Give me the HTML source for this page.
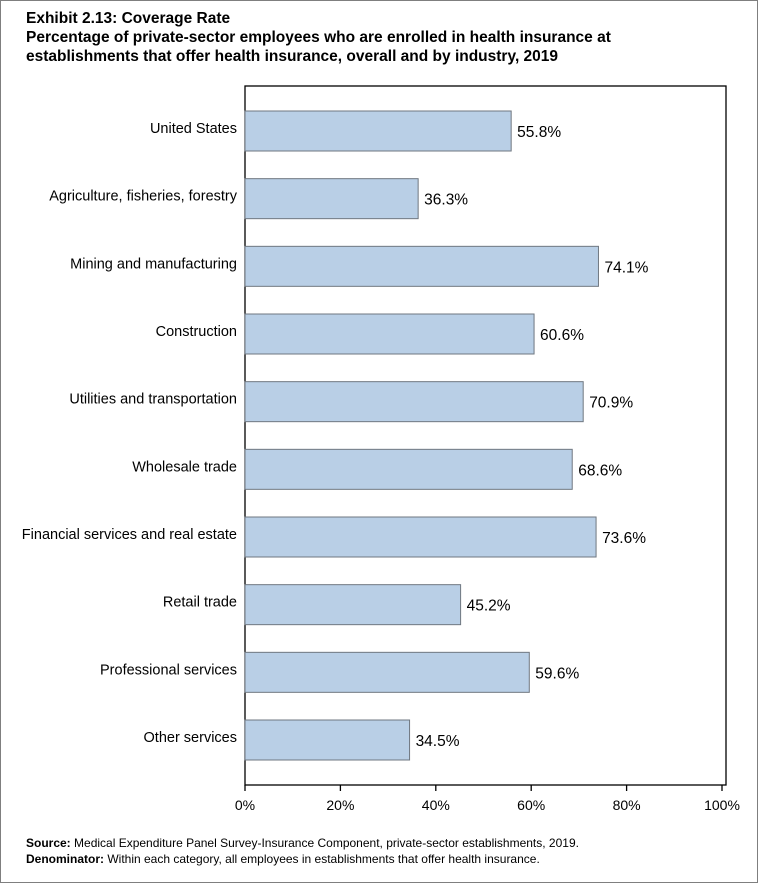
<!DOCTYPE html>
<html><head><meta charset="utf-8"><style>
body{margin:0;background:#fff}
#wrap{position:relative;width:756px;height:881px;border:1px solid #7f7f7f;font-family:"Liberation Sans",Arial,sans-serif;overflow:hidden}
.t{position:absolute;left:25px;font-weight:bold;font-size:15.5px;color:#000;line-height:19px}
.f{position:absolute;left:25px;font-size:12px;line-height:16px}
</style></head><body>
<div id="wrap">
<div class="t" style="top:8px">Exhibit 2.13: Coverage Rate<br>Percentage of private-sector employees who are enrolled in health insurance at<br>establishments that offer health insurance, overall and by industry, 2019</div>
<svg id="chart" width="758" height="883" style="position:absolute;left:-1px;top:-1px"></svg>
<div class="f" style="top:834px"><b>Source:</b> Medical Expenditure Panel Survey-Insurance Component, private-sector establishments, 2019.</div>
<div class="f" style="top:850px"><b>Denominator:</b> Within each category, all employees in establishments that offer health insurance.</div>
</div>
<script>
const categories=["United States","Agriculture, fisheries, forestry","Mining and manufacturing","Construction","Utilities and transportation","Wholesale trade","Financial services and real estate","Retail trade","Professional services","Other services"];
const values=[55.8,36.3,74.1,60.6,70.9,68.6,73.6,45.2,59.6,34.5];
const ticks=[0,20,40,60,80,100];
const NS="http://www.w3.org/2000/svg";
const svg=document.getElementById('chart');
const x0=245,x1=722,top0=86,bot=785,right=726;
const xs=v=>x0+(v/100)*(x1-x0);
const ys=i=>131+i*((740-131)/(categories.length-1));
function mk(t,a){const e=document.createElementNS(NS,t);for(const k in a)e.setAttribute(k,a[k]);svg.appendChild(e);return e;}
let r=mk('rect',{x:x0,y:top0,width:right-x0,height:bot-top0,fill:'none',stroke:'#000','stroke-width':1.3});


ticks.forEach(t=>{
 const l=mk('line',{x1:xs(t),x2:xs(t),y1:bot,y2:bot+6,stroke:'#000','stroke-width':1.3});
 
 
 const tx=mk('text',{x:xs(t),y:810,'text-anchor':'middle','font-size':14,'font-family':'Liberation Sans, Arial, sans-serif'});
 tx.textContent=t+'%';
 
 
});
categories.forEach((c,i)=>{
 const cy=ys(i);
 const b=mk('rect',{x:x0,y:cy-20,width:xs(values[i])-x0,height:40,fill:'#b9cfe6',stroke:'#6f7780','stroke-width':1});
 
 
 const lb=mk('text',{x:237,y:cy+2,'text-anchor':'end','font-size':14.5,'font-family':'Liberation Sans, Arial, sans-serif'});
 lb.textContent=c;
 
 
 const v=mk('text',{x:xs(values[i])+6,y:cy+6,'font-size':15.5,'font-family':'Liberation Sans, Arial, sans-serif'});
 v.textContent=values[i].toFixed(1)+'%';
 
 
});
</script>
</body></html>
